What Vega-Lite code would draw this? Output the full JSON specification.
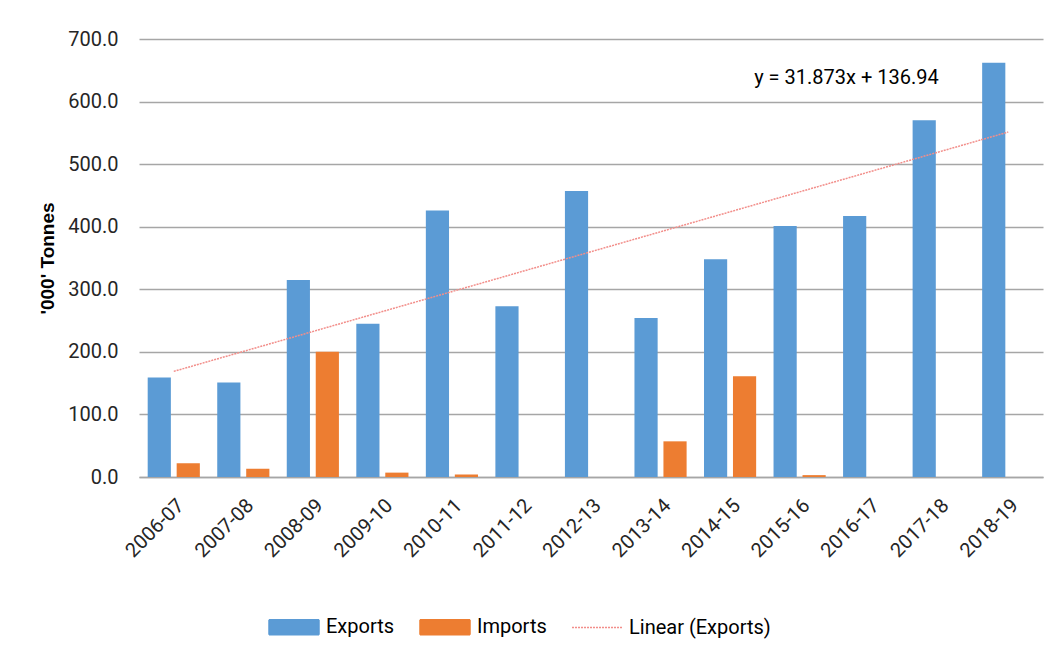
{
  "$schema": "https://vega.github.io/schema/vega-lite/v6.json",
  "autosize": {"type": "none"},
  "width": 904,
  "height": 438,
  "padding": {"left": 139, "top": 39, "right": 13, "bottom": 185},
  "background": "white",
  "config": {
    "font": "Roboto",
    "view": {"stroke": null},
    "axis": {"labelColor": "#262626", "titleColor": "#000000"}
  },
  "datasets": {
    "bars": [
      {"year": "2006-07", "series": "Exports", "value": 159},
      {"year": "2006-07", "series": "Imports", "value": 22},
      {"year": "2007-08", "series": "Exports", "value": 151},
      {"year": "2007-08", "series": "Imports", "value": 13},
      {"year": "2008-09", "series": "Exports", "value": 315},
      {"year": "2008-09", "series": "Imports", "value": 200},
      {"year": "2009-10", "series": "Exports", "value": 245},
      {"year": "2009-10", "series": "Imports", "value": 7},
      {"year": "2010-11", "series": "Exports", "value": 426},
      {"year": "2010-11", "series": "Imports", "value": 4},
      {"year": "2011-12", "series": "Exports", "value": 273},
      {"year": "2011-12", "series": "Imports", "value": 0},
      {"year": "2012-13", "series": "Exports", "value": 457},
      {"year": "2012-13", "series": "Imports", "value": 0},
      {"year": "2013-14", "series": "Exports", "value": 254},
      {"year": "2013-14", "series": "Imports", "value": 57},
      {"year": "2014-15", "series": "Exports", "value": 348},
      {"year": "2014-15", "series": "Imports", "value": 161},
      {"year": "2015-16", "series": "Exports", "value": 401},
      {"year": "2015-16", "series": "Imports", "value": 3},
      {"year": "2016-17", "series": "Exports", "value": 417},
      {"year": "2016-17", "series": "Imports", "value": 0},
      {"year": "2017-18", "series": "Exports", "value": 570},
      {"year": "2017-18", "series": "Imports", "value": 0},
      {"year": "2018-19", "series": "Exports", "value": 662},
      {"year": "2018-19", "series": "Imports", "value": 0}
    ],
    "trend": [
      {"year": "2006-07", "series": "Linear (Exports)", "value": 168.8},
      {"year": "2018-19", "series": "Linear (Exports)", "value": 551.3}
    ],
    "eq": [
      {"year": "2017-18", "value": 638, "label": "y = 31.873x + 136.94"}
    ]
  },
  "layer": [
    {
      "data": {"name": "bars"},
      "mark": {"type": "bar"},
      "encoding": {
        "x": {
          "field": "year", "type": "nominal", "sort": null,
          "scale": {"paddingInner": 0.25, "paddingOuter": 0.125},
          "axis": {
            "title": null, "labelAngle": -45, "labelFontSize": 20,
            "labelPadding": 18, "ticks": false,
            "domainColor": "#a6a6a6", "domainWidth": 1.5
          }
        },
        "xOffset": {"field": "series", "type": "nominal", "sort": ["Exports", "Imports"], "scale": {"paddingInner": 0.2, "paddingOuter": 0}},
        "y": {
          "field": "value", "type": "quantitative",
          "scale": {"domain": [0, 700], "nice": false},
          "axis": {
            "title": "'000' Tonnes", "titleFont": "Liberation Sans", "titleFontWeight": "bold",
            "titleFontSize": 19, "titlePadding": 10,
            "values": [0, 100, 200, 300, 400, 500, 600, 700], "format": ".1f",
            "labelFontSize": 20, "labelPadding": 21, "ticks": false, "domain": false,
            "gridColor": "#a6a6a6", "gridWidth": 1.5
          }
        },
        "color": {
          "field": "series", "type": "nominal",
          "scale": {"domain": ["Exports", "Imports", "Linear (Exports)"], "range": ["#5b9bd5", "#ed7d31", "#f28e8a"]},
          "legend": {
            "title": null, "orient": "none", "direction": "horizontal",
            "legendX": 129, "legendY": 562,
            "labelFontSize": 20, "labelColor": "#000000", "labelOffset": 6,
            "columnPadding": 22, "symbolSize": 2500, "symbolOpacity": 1,
            "symbolType": "M-1,-0.3H1V0.3H-1Z",
            "encode": {
              "symbols": {
                "update": {
                  "shape": [{"test": "datum.value === 'Linear (Exports)'", "value": "M-1,0H1"}, {"value": "M-1,-0.3H1V0.3H-1Z"}],
                  "fill": [{"test": "datum.value === 'Exports'", "value": "#5b9bd5"}, {"test": "datum.value === 'Imports'", "value": "#ed7d31"}, {"value": "transparent"}],
                  "stroke": [{"test": "datum.value === 'Linear (Exports)'", "value": "#f28e8a"}, {"value": "transparent"}],
                  "strokeWidth": {"value": 1.5},
                  "strokeDash": [{"test": "datum.value === 'Linear (Exports)'", "value": [2, 1]}, {"value": [1, 0]}]
                }
              }
            }
          }
        }
      }
    },
    {
      "data": {"name": "trend"},
      "mark": {"type": "line", "strokeWidth": 1.5, "strokeDash": [2, 1]},
      "encoding": {
        "x": {"field": "year", "type": "nominal", "sort": null},
        "y": {"field": "value", "type": "quantitative"},
        "color": {"field": "series", "type": "nominal"}
      }
    },
    {
      "data": {"name": "eq"},
      "mark": {"type": "text", "align": "right", "baseline": "middle", "fontSize": 20, "color": "#000000", "font": "Roboto"},
      "encoding": {
        "x": {"field": "year", "type": "nominal", "sort": null},
        "y": {"field": "value", "type": "quantitative"},
        "text": {"field": "label"}
      }
    }
  ]
}
